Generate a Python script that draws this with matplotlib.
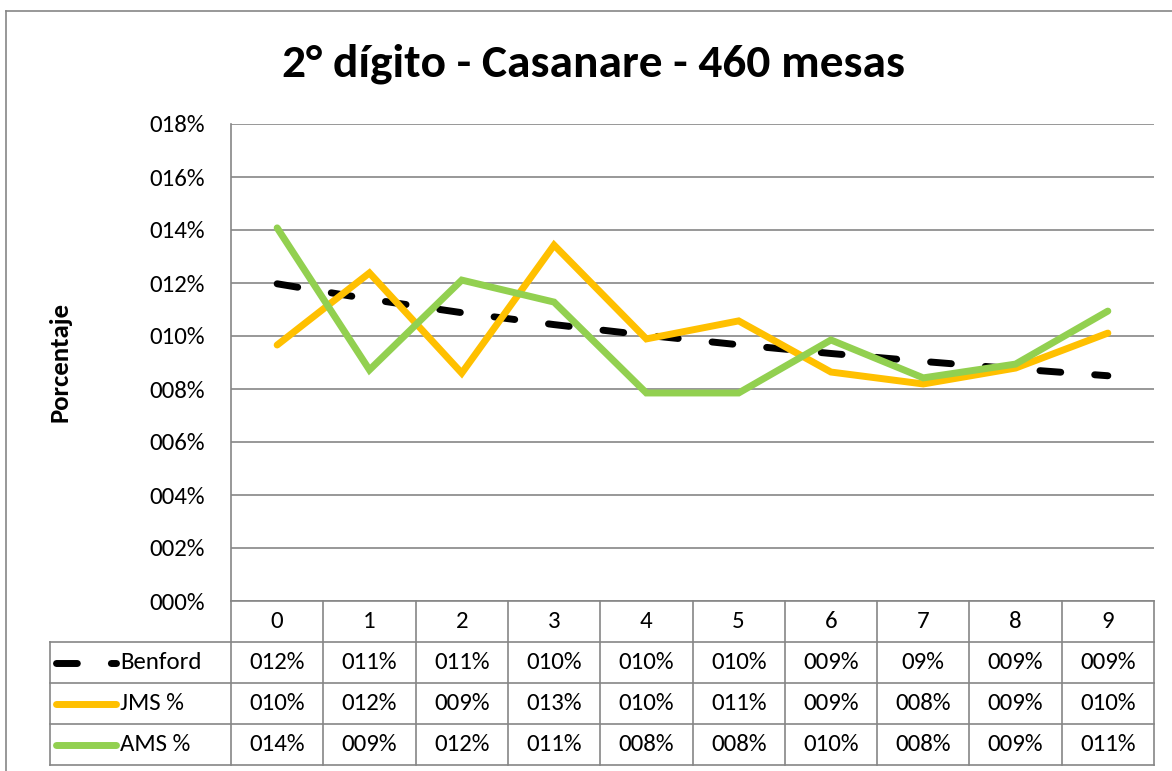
import matplotlib
matplotlib.use("Agg")
import matplotlib.pyplot as plt
from matplotlib.lines import Line2D
from matplotlib import font_manager

# ---- data ----
categories = ["0", "1", "2", "3", "4", "5", "6", "7", "8", "9"]
benford = [0.1197, 0.1139, 0.1088, 0.1043, 0.1003, 0.0967, 0.0934, 0.0904, 0.0876, 0.0850]
jms = [0.0966, 0.1238, 0.0860, 0.1343, 0.0989, 0.1057, 0.0864, 0.0819, 0.0879, 0.1011]
ams = [0.1408, 0.0872, 0.1211, 0.1128, 0.0785, 0.0785, 0.0985, 0.0842, 0.0894, 0.1094]
series_names = ["Benford", "JMS %", "AMS %"]
table_benford = ["012%", "011%", "011%", "010%", "010%", "010%", "009%", "09%", "009%", "009%"]
table_jms = ["010%", "012%", "009%", "013%", "010%", "011%", "009%", "008%", "009%", "010%"]
table_ams = ["014%", "009%", "012%", "011%", "008%", "008%", "010%", "008%", "009%", "011%"]
yticks = [0.00, 0.02, 0.04, 0.06, 0.08, 0.10, 0.12, 0.14, 0.16, 0.18]
ytick_labels = ["000%", "002%", "004%", "006%", "008%", "010%", "012%", "014%", "016%", "018%"]
title = "2° dígito - Casanare - 460 mesas"
ylabel = "Porcentaje"

# ---- style ----
W, H = 1172, 771
available = {f.name for f in font_manager.fontManager.ttflist}
FONT = "Lato"
for cand in ["Carlito", "Calibri", "Lato"]:
    if cand in available:
        FONT = cand
        break
scale = 1.0 if FONT == "Lato" else 1.1
plt.rcParams["font.family"] = [FONT, "DejaVu Sans"]
GRID = "#868686"
C_BEN = "black"
C_JMS = "#FFC000"
C_AMS = "#92D050"
FS = 16.3 * scale

fig = plt.figure(figsize=(W / 100, H / 100), dpi=100)
fig.patch.set_facecolor("white")

# outer frame
fig.add_artist(Line2D([6 / W, 1.0], [1 - 11 / H, 1 - 11 / H], color=GRID, lw=1.2, transform=fig.transFigure))
fig.add_artist(Line2D([6 / W, 6 / W], [0.0, 1 - 11 / H], color=GRID, lw=1.2, transform=fig.transFigure))

# plot area
pl, pr, pt, pb = 231, 1154, 124, 601
ax = fig.add_axes([pl / W, 1 - pb / H, (pr - pl) / W, (pb - pt) / H])
x = list(range(len(categories)))
ax.set_xlim(-0.5, len(categories) - 0.5)
ax.set_ylim(0, 0.18)
ax.set_yticks(yticks)
ax.set_yticklabels(ytick_labels, fontsize=FS, family=FONT)
ax.set_xticks([])
ax.tick_params(axis="y", length=0, pad=19)
ax.yaxis.grid(True, color=GRID, lw=1.2)
ax.set_axisbelow(True)
for s in ["top", "right", "bottom"]:
    ax.spines[s].set_visible(False)
ax.spines["left"].set_color(GRID)
ax.spines["left"].set_linewidth(1.2)

LW = 5.0
DASH = (3.0, 4.9)
ax.plot(x, benford, color=C_BEN, lw=LW, dashes=DASH, dash_capstyle="round", zorder=3)
ax.plot(x, jms, color=C_JMS, lw=LW, solid_capstyle="round", solid_joinstyle="miter", zorder=4)
ax.plot(x, ams, color=C_AMS, lw=LW, solid_capstyle="round", solid_joinstyle="miter", zorder=5)

fig.text(593 / W, 1 - 64 / H, title, ha="center", va="center", fontsize=31 * scale, fontweight="bold", family=FONT)
fig.text(60 / W, 1 - 362 / H, ylabel, ha="center", va="center", rotation=90, fontsize=17.5 * scale,
         fontweight="bold", family=FONT)

# data table
tl, tb = 50, 765
unit = (pr - pl) / len(categories)
tax = fig.add_axes([tl / W, 1 - tb / H, (pr - tl) / W, (tb - pb) / H])
left_x = -0.5 - (pl - tl) / unit
tax.set_xlim(left_x, len(categories) - 0.5)
tax.set_ylim(4, 0)
tax.axis("off")

lk = dict(color=GRID, lw=1.2, clip_on=False)
tax.plot([-0.5, len(categories) - 0.5], [0, 0], **lk)
for r in range(1, 5):
    tax.plot([left_x, len(categories) - 0.5], [r, r], **lk)
tax.plot([left_x, left_x], [1, 4], **lk)
for k in range(len(categories) + 1):
    tax.plot([k - 0.5, k - 0.5], [0, 4], **lk)

for i, c in enumerate(categories):
    tax.text(i, 0.5, c, ha="center", va="center", fontsize=FS, family=FONT)

rows = [table_benford, table_jms, table_ams]
for r, vals in enumerate(rows):
    for i, v in enumerate(vals):
        tax.text(i, r + 1.5, v, ha="center", va="center", fontsize=FS, family=FONT)

key_x0 = left_x + 6 / unit
key_x1 = left_x + 66 / unit
lab_x = left_x + 70 / unit
tax.plot([key_x0, key_x1], [1.5, 1.5], color=C_BEN, lw=LW, dashes=DASH,
         dash_capstyle="round", clip_on=False)
tax.plot([key_x0, key_x1], [2.5, 2.5], color=C_JMS, lw=LW, solid_capstyle="round", clip_on=False)
tax.plot([key_x0, key_x1], [3.5, 3.5], color=C_AMS, lw=LW, solid_capstyle="round", clip_on=False)
for r, name in enumerate(series_names):
    tax.text(lab_x, r + 1.5, name, ha="left", va="center", fontsize=FS, family=FONT)

fig.savefig("out.png", dpi=100, facecolor="white")
